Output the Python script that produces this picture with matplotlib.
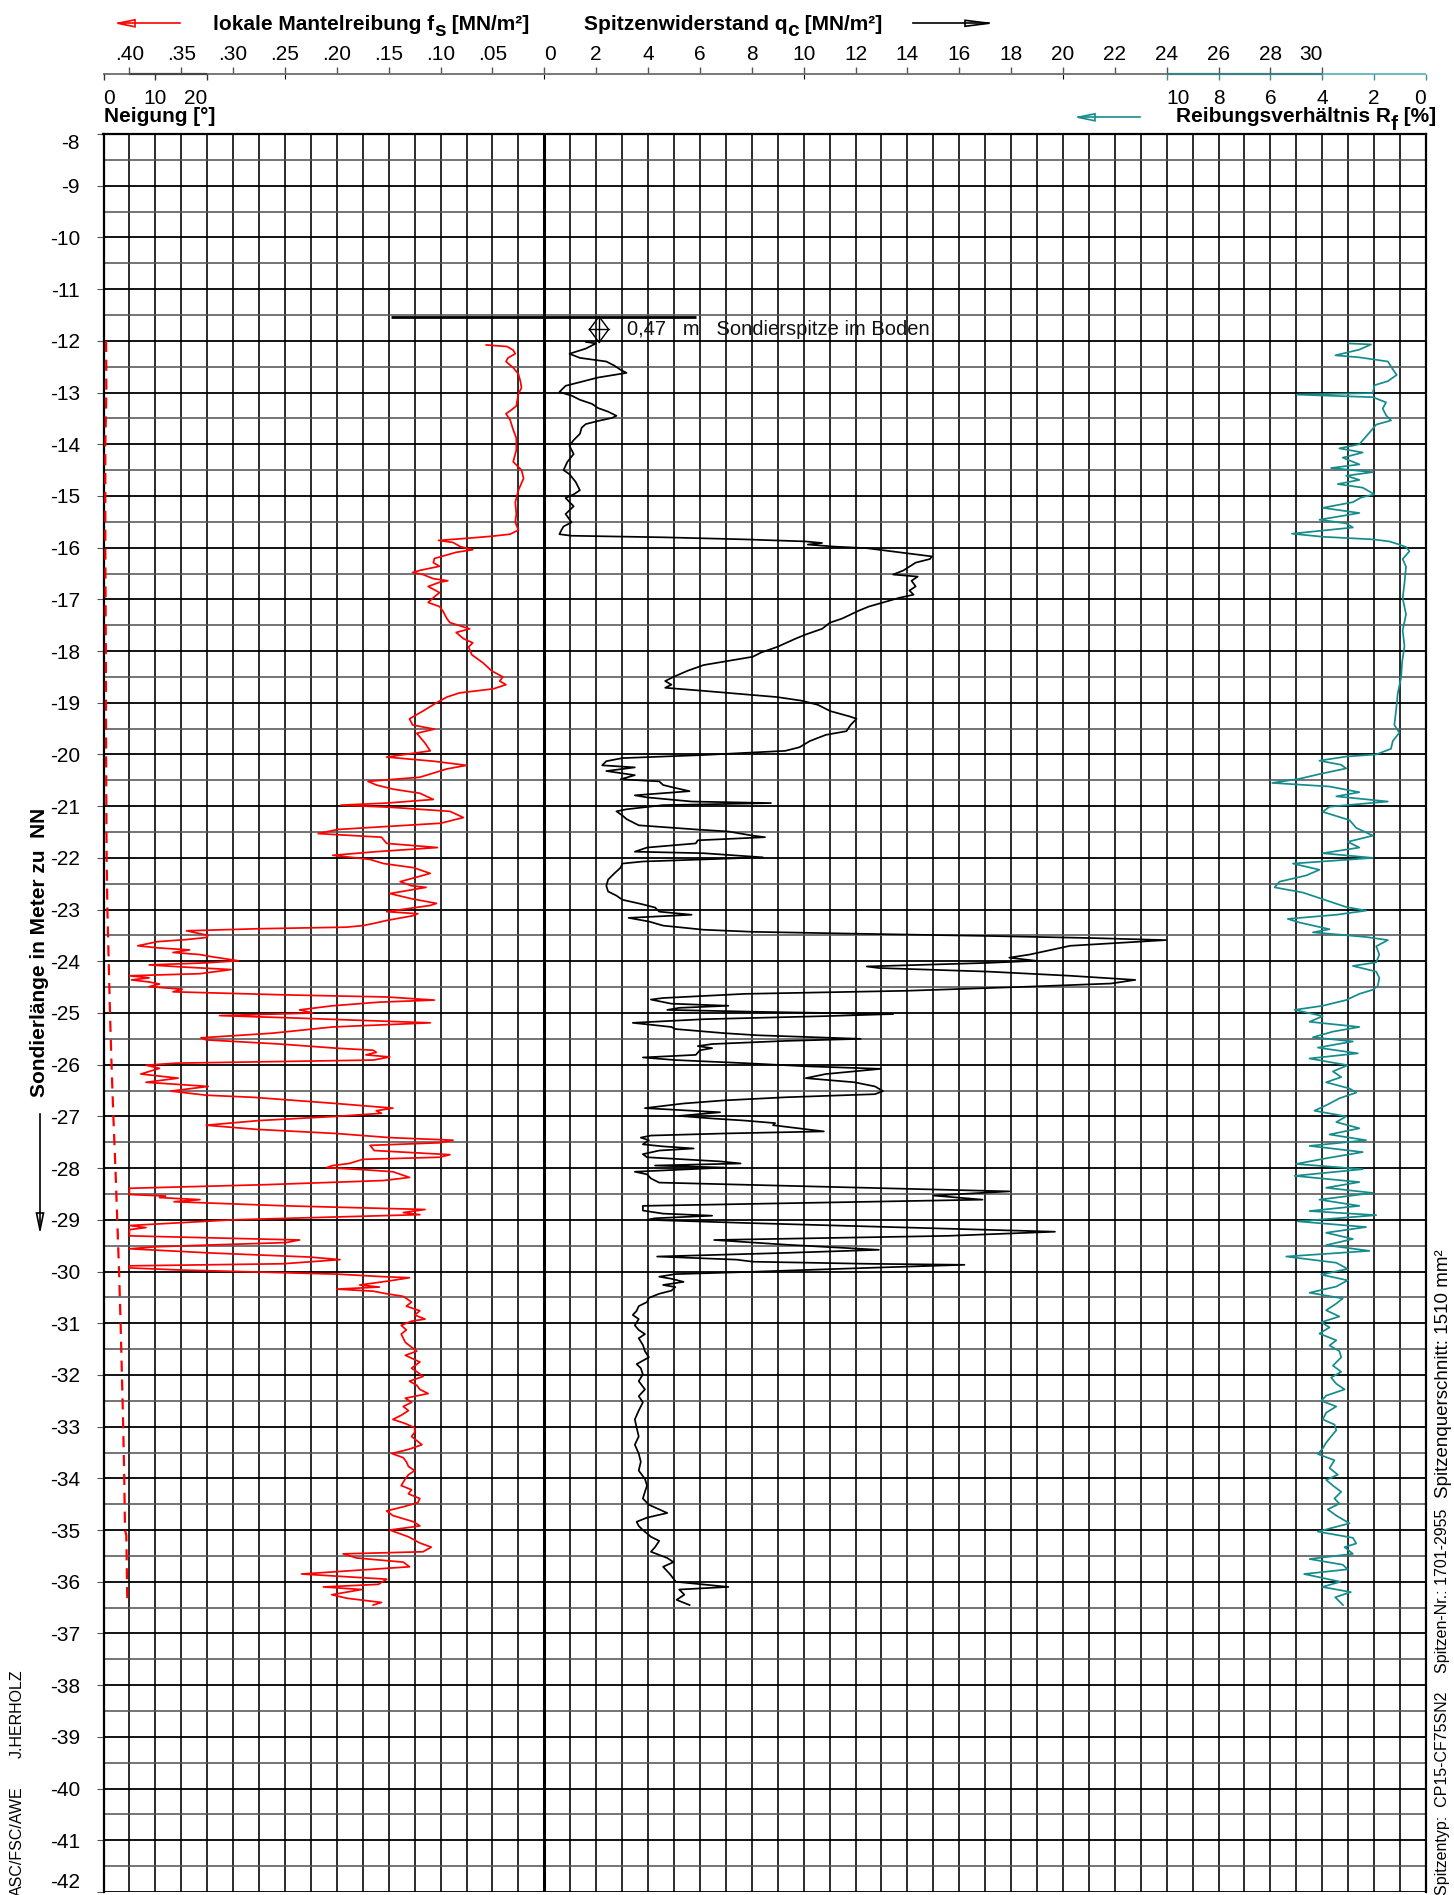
import numpy as np
import matplotlib.pyplot as plt
from matplotlib.lines import Line2D
from matplotlib.patches import Polygon

plt.rcParams['font.family'] = ['Liberation Sans', 'DejaVu Sans']

W, H = 1454, 1895

# ---- data (depth in m NN, value) ----
fs_pts = [
    (-12.08, 0.056), (-12.11, 0.036), (-12.18, 0.030), (-12.25, 0.028), (-12.33, 0.035),
    (-12.40, 0.037), (-12.52, 0.030), (-12.64, 0.025), (-12.79, 0.023), (-12.91, 0.022),
    (-13.02, 0.025), (-13.26, 0.027), (-13.34, 0.032), (-13.41, 0.037), (-13.53, 0.033),
    (-13.72, 0.030), (-13.88, 0.027), (-14.11, 0.027), (-14.34, 0.030), (-14.50, 0.022),
    (-14.66, 0.020), (-14.89, 0.025), (-15.12, 0.028), (-15.35, 0.027), (-15.51, 0.028),
    (-15.66, 0.025), (-15.74, 0.033), (-15.78, 0.051), (-15.82, 0.075), (-15.86, 0.102),
    (-15.90, 0.088), (-15.98, 0.081), (-16.04, 0.069), (-16.09, 0.085), (-16.21, 0.106),
    (-16.29, 0.107), (-16.36, 0.101), (-16.44, 0.120), (-16.48, 0.127), (-16.52, 0.117),
    (-16.60, 0.107), (-16.64, 0.093), (-16.67, 0.101), (-16.75, 0.112), (-16.87, 0.101),
    (-16.95, 0.106), (-17.06, 0.112), (-17.14, 0.101), (-17.22, 0.098), (-17.37, 0.094),
    (-17.45, 0.091), (-17.57, 0.072), (-17.64, 0.085), (-17.76, 0.078), (-17.84, 0.069),
    (-17.92, 0.073), (-18.07, 0.070), (-18.23, 0.059), (-18.38, 0.051), (-18.50, 0.040),
    (-18.58, 0.043), (-18.65, 0.037), (-18.73, 0.049), (-18.81, 0.082), (-18.89, 0.094),
    (-19.00, 0.104), (-19.16, 0.117), (-19.31, 0.130), (-19.43, 0.127), (-19.51, 0.106),
    (-19.59, 0.123), (-19.78, 0.115), (-19.93, 0.110), (-20.05, 0.152), (-20.13, 0.107),
    (-20.21, 0.075), (-20.28, 0.094), (-20.36, 0.107), (-20.44, 0.120), (-20.52, 0.170),
    (-20.59, 0.162), (-20.67, 0.146), (-20.75, 0.120), (-20.87, 0.107), (-20.94, 0.152),
    (-20.98, 0.196), (-21.02, 0.149), (-21.10, 0.091), (-21.22, 0.078), (-21.33, 0.100),
    (-21.45, 0.199), (-21.53, 0.218), (-21.60, 0.157), (-21.72, 0.152), (-21.80, 0.103),
    (-21.88, 0.162), (-21.95, 0.204), (-22.03, 0.168), (-22.11, 0.155), (-22.19, 0.126),
    (-22.30, 0.110), (-22.46, 0.139), (-22.54, 0.128), (-22.57, 0.114), (-22.69, 0.149),
    (-22.79, 0.128), (-22.88, 0.104), (-22.92, 0.110), (-23.04, 0.152), (-23.08, 0.122),
    (-23.12, 0.127), (-23.21, 0.152), (-23.27, 0.165), (-23.31, 0.175), (-23.34, 0.191),
    (-23.37, 0.275), (-23.41, 0.345), (-23.50, 0.324), (-23.54, 0.326), (-23.58, 0.345),
    (-23.62, 0.373), (-23.70, 0.392), (-23.74, 0.373), (-23.78, 0.342), (-23.83, 0.358),
    (-23.87, 0.332), (-23.91, 0.321), (-23.99, 0.295), (-24.03, 0.326), (-24.07, 0.381),
    (-24.11, 0.349), (-24.16, 0.302), (-24.24, 0.332), (-24.28, 0.400), (-24.32, 0.381),
    (-24.36, 0.398), (-24.40, 0.381), (-24.44, 0.371), (-24.49, 0.381), (-24.54, 0.349),
    (-24.59, 0.358), (-24.65, 0.249), (-24.69, 0.152), (-24.75, 0.106), (-24.79, 0.159),
    (-24.86, 0.204), (-24.94, 0.236), (-25.00, 0.223), (-25.05, 0.313), (-25.10, 0.236),
    (-25.19, 0.110), (-25.27, 0.204), (-25.39, 0.262), (-25.48, 0.331), (-25.52, 0.326),
    (-25.60, 0.255), (-25.68, 0.201), (-25.72, 0.165), (-25.76, 0.162), (-25.81, 0.172),
    (-25.85, 0.149), (-25.91, 0.165), (-25.97, 0.355), (-26.01, 0.384), (-26.07, 0.371),
    (-26.18, 0.389), (-26.26, 0.353), (-26.34, 0.384), (-26.42, 0.324), (-26.51, 0.360),
    (-26.59, 0.326), (-26.63, 0.281), (-26.75, 0.201), (-26.84, 0.146), (-26.89, 0.162),
    (-26.94, 0.157), (-27.00, 0.201), (-27.08, 0.275), (-27.17, 0.326), (-27.25, 0.278),
    (-27.33, 0.201), (-27.41, 0.149), (-27.46, 0.088), (-27.51, 0.101), (-27.56, 0.168),
    (-27.66, 0.164), (-27.74, 0.091), (-27.79, 0.101), (-27.83, 0.175), (-27.91, 0.188),
    (-27.95, 0.204), (-27.99, 0.210), (-28.03, 0.175), (-28.07, 0.146), (-28.18, 0.130),
    (-28.24, 0.155), (-28.32, 0.268), (-28.39, 0.400), (-28.51, 0.400), (-28.54, 0.365),
    (-28.57, 0.371), (-28.61, 0.332), (-28.65, 0.357), (-28.73, 0.249), (-28.80, 0.115),
    (-28.86, 0.136), (-28.90, 0.120), (-29.00, 0.300), (-29.11, 0.400), (-29.15, 0.384),
    (-29.19, 0.400), (-29.31, 0.400), (-29.39, 0.236), (-29.44, 0.249), (-29.52, 0.374),
    (-29.56, 0.400), (-29.64, 0.323), (-29.72, 0.226), (-29.77, 0.197), (-29.85, 0.252),
    (-29.89, 0.400), (-29.93, 0.400), (-29.97, 0.352), (-30.01, 0.275), (-30.05, 0.200),
    (-30.10, 0.155), (-30.12, 0.130), (-30.18, 0.149), (-30.26, 0.178), (-30.30, 0.159),
    (-30.34, 0.200), (-30.38, 0.165), (-30.43, 0.152), (-30.48, 0.136), (-30.59, 0.128),
    (-30.67, 0.133), (-30.76, 0.120), (-30.84, 0.125), (-30.92, 0.115), (-30.96, 0.128),
    (-31.04, 0.138), (-31.13, 0.133), (-31.21, 0.138), (-31.37, 0.134), (-31.54, 0.123),
    (-31.62, 0.134), (-31.75, 0.120), (-31.87, 0.128), (-31.95, 0.122), (-32.03, 0.117),
    (-32.12, 0.130), (-32.20, 0.123), (-32.28, 0.120), (-32.36, 0.112), (-32.45, 0.134),
    (-32.53, 0.128), (-32.61, 0.136), (-32.69, 0.131), (-32.78, 0.138), (-32.86, 0.146),
    (-32.94, 0.134), (-33.02, 0.125), (-33.11, 0.125), (-33.19, 0.128), (-33.27, 0.123),
    (-33.35, 0.118), (-33.44, 0.131), (-33.52, 0.147), (-33.60, 0.136), (-33.68, 0.133),
    (-33.77, 0.131), (-33.85, 0.125), (-33.93, 0.131), (-34.01, 0.134), (-34.14, 0.138),
    (-34.22, 0.128), (-34.30, 0.131), (-34.39, 0.120), (-34.47, 0.122), (-34.55, 0.136),
    (-34.63, 0.152), (-34.72, 0.146), (-34.84, 0.126), (-34.92, 0.120), (-35.00, 0.149),
    (-35.13, 0.131), (-35.25, 0.120), (-35.33, 0.109), (-35.42, 0.117), (-35.46, 0.194),
    (-35.54, 0.181), (-35.62, 0.136), (-35.71, 0.130), (-35.85, 0.234), (-35.95, 0.152),
    (-36.05, 0.160), (-36.10, 0.213), (-36.15, 0.176), (-36.25, 0.205), (-36.32, 0.190),
    (-36.40, 0.157), (-36.45, 0.165),
]

qc_pts = [
    (-12.02, 1.60), (-12.05, 1.99), (-12.15, 1.60), (-12.25, 0.97), (-12.33, 1.37),
    (-12.40, 2.39), (-12.48, 2.70), (-12.56, 2.94), (-12.62, 3.17), (-12.71, 2.07),
    (-12.87, 0.82), (-12.99, 0.58), (-13.06, 1.05), (-13.14, 1.37), (-13.22, 1.84),
    (-13.30, 2.07), (-13.37, 2.46), (-13.45, 2.78), (-13.49, 2.62), (-13.55, 2.07),
    (-13.61, 1.60), (-13.68, 1.44), (-13.80, 1.37), (-13.92, 1.13), (-14.03, 0.97),
    (-14.19, 1.13), (-14.34, 0.89), (-14.50, 0.74), (-14.58, 0.97), (-14.73, 1.21),
    (-14.89, 1.37), (-14.97, 1.13), (-15.04, 0.82), (-15.20, 1.13), (-15.35, 0.82),
    (-15.51, 1.05), (-15.59, 0.74), (-15.66, 0.66), (-15.74, 0.58), (-15.77, 1.05),
    (-15.80, 4.58), (-15.84, 7.72), (-15.88, 10.08), (-15.91, 10.71), (-15.94, 10.16),
    (-15.98, 11.18), (-16.01, 12.43), (-16.09, 13.69), (-16.17, 14.95), (-16.22, 14.87),
    (-16.29, 14.32), (-16.44, 13.85), (-16.52, 13.45), (-16.56, 14.40), (-16.64, 14.16),
    (-16.75, 14.32), (-16.83, 14.08), (-16.91, 14.24), (-16.97, 13.69), (-17.06, 13.06),
    (-17.14, 12.51), (-17.22, 12.12), (-17.37, 11.49), (-17.45, 11.02), (-17.57, 10.71),
    (-17.68, 10.08), (-17.76, 9.69), (-17.92, 8.98), (-18.03, 8.35), (-18.11, 8.04),
    (-18.19, 7.10), (-18.27, 6.15), (-18.38, 5.53), (-18.50, 4.98), (-18.58, 4.66),
    (-18.65, 4.90), (-18.71, 4.66), (-18.77, 6.15), (-18.85, 8.04), (-18.89, 8.98),
    (-18.96, 9.92), (-19.04, 10.55), (-19.16, 11.02), (-19.27, 11.81), (-19.31, 12.04),
    (-19.43, 11.81), (-19.55, 11.65), (-19.62, 10.86), (-19.74, 10.24), (-19.86, 9.84),
    (-19.93, 9.29), (-20.01, 6.15), (-20.07, 3.01), (-20.13, 2.39), (-20.21, 2.23),
    (-20.25, 3.49), (-20.32, 2.39), (-20.40, 3.49), (-20.48, 2.94), (-20.52, 4.43),
    (-20.59, 4.58), (-20.63, 4.90), (-20.71, 5.60), (-20.79, 3.49), (-20.83, 3.96),
    (-20.91, 5.68), (-20.94, 8.74), (-20.98, 4.58), (-21.06, 3.17), (-21.10, 2.78),
    (-21.18, 3.01), (-21.25, 3.17), (-21.37, 3.64), (-21.45, 5.84), (-21.49, 7.10),
    (-21.57, 8.04), (-21.60, 8.51), (-21.66, 5.92), (-21.72, 5.84), (-21.80, 3.96),
    (-21.88, 3.49), (-21.91, 6.15), (-21.99, 8.43), (-22.07, 3.80), (-22.11, 3.01),
    (-22.19, 2.94), (-22.30, 2.70), (-22.42, 2.46), (-22.54, 2.39), (-22.65, 2.46),
    (-22.73, 2.78), (-22.81, 3.01), (-22.89, 3.72), (-22.96, 4.27), (-23.04, 4.43),
    (-23.10, 5.68), (-23.16, 3.25), (-23.23, 4.03), (-23.31, 4.58), (-23.39, 6.15),
    (-23.43, 8.04), (-23.47, 12.43), (-23.51, 17.14), (-23.55, 21.07), (-23.59, 23.97),
    (-23.70, 20.28), (-23.87, 18.71), (-23.93, 17.93), (-23.99, 18.95), (-24.03, 17.14),
    (-24.10, 12.43), (-24.13, 12.90), (-24.20, 17.14), (-24.28, 20.28), (-24.36, 22.79),
    (-24.43, 21.85), (-24.49, 18.71), (-24.57, 14.00), (-24.63, 7.72), (-24.71, 4.58),
    (-24.74, 4.11), (-24.82, 4.90), (-24.86, 7.10), (-24.90, 5.21), (-24.94, 4.74),
    (-24.98, 8.51), (-25.02, 13.45), (-25.06, 10.86), (-25.12, 6.15), (-25.19, 3.41),
    (-25.27, 4.90), (-25.31, 5.05), (-25.39, 6.94), (-25.43, 8.19), (-25.50, 12.20),
    (-25.54, 9.29), (-25.60, 6.47), (-25.64, 5.92), (-25.68, 6.47), (-25.72, 6.00),
    (-25.81, 5.84), (-25.86, 3.80), (-25.91, 5.05), (-25.97, 7.72), (-26.03, 10.08),
    (-26.08, 12.98), (-26.18, 10.86), (-26.26, 10.08), (-26.34, 11.96), (-26.42, 12.75),
    (-26.51, 13.06), (-26.57, 12.75), (-26.63, 9.29), (-26.69, 6.94), (-26.75, 5.37),
    (-26.84, 3.88), (-26.92, 6.78), (-26.99, 5.21), (-27.04, 6.47), (-27.08, 7.72),
    (-27.13, 8.90), (-27.17, 8.82), (-27.29, 10.78), (-27.33, 6.94), (-27.37, 4.11),
    (-27.41, 3.72), (-27.46, 4.03), (-27.54, 3.80), (-27.58, 4.58), (-27.62, 5.76),
    (-27.66, 4.43), (-27.73, 3.80), (-27.79, 3.96), (-27.87, 6.78), (-27.91, 7.57),
    (-27.95, 4.27), (-27.99, 6.94), (-28.07, 3.49), (-28.12, 3.96), (-28.20, 4.11),
    (-28.28, 4.43), (-28.45, 17.93), (-28.53, 15.00), (-28.61, 16.90), (-28.73, 3.80),
    (-28.82, 3.80), (-28.88, 4.58), (-28.92, 6.47), (-28.97, 4.27), (-29.00, 3.96),
    (-29.06, 7.72), (-29.15, 14.00), (-29.23, 19.69), (-29.31, 15.57), (-29.39, 6.55),
    (-29.48, 9.29), (-29.58, 12.90), (-29.64, 9.29), (-29.71, 4.35), (-29.77, 7.41),
    (-29.81, 8.04), (-29.85, 12.43), (-29.87, 16.20), (-29.93, 12.43), (-30.01, 7.72),
    (-30.05, 5.05), (-30.10, 4.43), (-30.14, 4.90), (-30.20, 5.37), (-30.26, 4.58),
    (-30.30, 5.05), (-30.37, 4.90), (-30.43, 4.43), (-30.51, 4.03), (-30.59, 3.96),
    (-30.67, 3.64), (-30.76, 3.56), (-30.84, 3.41), (-30.92, 3.64), (-31.04, 3.49),
    (-31.13, 3.64), (-31.21, 3.88), (-31.29, 3.64), (-31.42, 3.80), (-31.54, 3.88),
    (-31.66, 4.03), (-31.79, 3.56), (-31.87, 3.72), (-31.99, 3.80), (-32.12, 3.64),
    (-32.28, 3.88), (-32.41, 3.64), (-32.53, 3.80), (-32.69, 3.64), (-32.86, 3.49),
    (-33.02, 3.56), (-33.19, 3.64), (-33.35, 3.49), (-33.52, 3.64), (-33.68, 3.72),
    (-33.85, 3.64), (-34.01, 3.88), (-34.14, 3.96), (-34.26, 3.88), (-34.39, 3.80),
    (-34.51, 4.03), (-34.67, 4.74), (-34.76, 3.96), (-34.84, 3.56), (-34.92, 3.64),
    (-35.00, 3.80), (-35.13, 4.11), (-35.21, 4.43), (-35.33, 4.27), (-35.42, 4.11),
    (-35.54, 4.74), (-35.62, 4.98), (-35.71, 4.58), (-35.85, 4.84), (-36.00, 5.07),
    (-36.10, 7.10), (-36.15, 5.20), (-36.25, 5.40), (-36.35, 5.10), (-36.45, 5.60),
]

rf_pts = [
    (-12.05, 3.00), (-12.07, 2.12), (-12.17, 2.57), (-12.28, 3.49), (-12.32, 2.57),
    (-12.40, 1.47), (-12.55, 1.28), (-12.66, 1.13), (-12.78, 1.47), (-12.86, 1.99),
    (-13.01, 2.05), (-13.04, 4.98), (-13.09, 2.05), (-13.19, 1.54), (-13.31, 1.67),
    (-13.44, 1.54), (-13.54, 1.35), (-13.62, 1.92), (-13.74, 2.12), (-13.85, 2.31),
    (-14.00, 2.57), (-14.08, 3.34), (-14.16, 2.44), (-14.26, 3.21), (-14.39, 2.57),
    (-14.46, 3.66), (-14.54, 2.05), (-14.61, 3.08), (-14.69, 2.57), (-14.77, 3.40),
    (-14.84, 2.44), (-14.97, 1.99), (-15.03, 2.50), (-15.12, 2.82), (-15.23, 3.98),
    (-15.33, 2.57), (-15.46, 4.11), (-15.53, 3.08), (-15.61, 2.82), (-15.73, 5.17),
    (-15.79, 3.98), (-15.84, 2.05), (-15.88, 1.41), (-15.94, 1.03), (-15.99, 0.77),
    (-16.07, 0.64), (-16.22, 0.90), (-16.37, 0.77), (-16.68, 0.83), (-16.98, 0.90),
    (-17.29, 0.77), (-17.60, 0.90), (-17.90, 0.83), (-18.21, 0.92), (-18.51, 0.96),
    (-18.82, 1.09), (-19.13, 1.15), (-19.43, 1.22), (-19.58, 1.03), (-19.74, 1.28),
    (-19.89, 1.35), (-20.00, 1.92), (-20.04, 3.08), (-20.12, 4.11), (-20.20, 3.27),
    (-20.27, 3.08), (-20.38, 4.11), (-20.47, 4.88), (-20.55, 5.93), (-20.62, 3.72),
    (-20.73, 2.57), (-20.81, 3.46), (-20.91, 1.47), (-21.01, 3.72), (-21.11, 3.98),
    (-21.27, 2.95), (-21.42, 2.69), (-21.57, 2.05), (-21.69, 3.02), (-21.80, 2.57),
    (-21.91, 3.98), (-22.00, 2.05), (-22.11, 5.13), (-22.23, 4.11), (-22.34, 4.62),
    (-22.46, 5.65), (-22.57, 5.84), (-22.67, 4.75), (-22.80, 3.98), (-22.95, 3.08),
    (-23.02, 2.31), (-23.10, 3.46), (-23.18, 5.33), (-23.25, 4.88), (-23.38, 3.72),
    (-23.44, 4.36), (-23.53, 2.31), (-23.59, 1.47), (-23.71, 1.92), (-23.87, 1.80),
    (-24.02, 1.92), (-24.09, 2.82), (-24.20, 1.92), (-24.32, 1.80), (-24.48, 1.86),
    (-24.55, 2.05), (-24.63, 2.57), (-24.75, 3.08), (-24.86, 3.98), (-24.94, 5.07),
    (-25.06, 3.98), (-25.17, 4.49), (-25.27, 2.57), (-25.36, 3.59), (-25.47, 4.36),
    (-25.55, 2.82), (-25.67, 4.17), (-25.78, 2.63), (-25.88, 4.49), (-26.01, 3.02),
    (-26.13, 3.59), (-26.24, 3.27), (-26.34, 3.85), (-26.46, 2.95), (-26.54, 2.69),
    (-26.65, 3.34), (-26.77, 3.79), (-26.89, 4.30), (-27.00, 3.08), (-27.11, 3.46),
    (-27.23, 2.57), (-27.35, 3.72), (-27.46, 2.31), (-27.57, 4.49), (-27.69, 2.44),
    (-27.81, 3.85), (-27.92, 5.01), (-28.02, 2.44), (-28.15, 5.07), (-28.27, 2.57),
    (-28.38, 3.85), (-28.48, 2.05), (-28.61, 4.11), (-28.73, 2.57), (-28.83, 4.49),
    (-28.91, 1.92), (-29.03, 4.94), (-29.14, 2.31), (-29.25, 3.85), (-29.37, 2.82),
    (-29.49, 3.85), (-29.60, 2.18), (-29.71, 5.39), (-29.83, 3.46), (-29.95, 3.02),
    (-30.06, 4.04), (-30.17, 3.02), (-30.29, 3.46), (-30.41, 4.49), (-30.52, 3.21),
    (-30.62, 3.46), (-30.75, 3.85), (-30.87, 3.34), (-30.98, 4.04), (-31.08, 3.72),
    (-31.20, 4.11), (-31.33, 3.46), (-31.43, 3.72), (-31.54, 3.34), (-31.66, 3.27),
    (-31.82, 3.59), (-31.94, 3.27), (-32.05, 3.66), (-32.17, 3.46), (-32.28, 3.14),
    (-32.40, 3.85), (-32.50, 4.04), (-32.61, 3.46), (-32.73, 3.85), (-32.86, 3.98),
    (-32.96, 3.53), (-33.07, 3.46), (-33.19, 3.66), (-33.31, 3.85), (-33.42, 3.98),
    (-33.53, 4.17), (-33.65, 3.53), (-33.80, 3.72), (-33.93, 3.40), (-34.03, 3.85),
    (-34.14, 3.59), (-34.26, 3.27), (-34.39, 3.53), (-34.49, 3.34), (-34.60, 3.79),
    (-34.72, 3.46), (-34.87, 2.95), (-35.03, 4.17), (-35.15, 2.82), (-35.26, 2.69),
    (-35.33, 3.14), (-35.46, 2.82), (-35.56, 4.49), (-35.67, 3.21), (-35.76, 3.02),
    (-35.85, 4.70), (-36.00, 3.30), (-36.10, 4.00), (-36.20, 2.90), (-36.30, 3.50),
    (-36.45, 3.20),
]

neig_depth = [-12.0, -13, -14, -16, -18, -20, -22, -23, -24, -25, -26, -27, -28, -29,
              -30, -31, -32, -33, -34, -35, -35.1, -36.45]
neig_val = [0.5, 0.55, 0.35, 0.35, 0.45, 0.5, 0.6, 0.75, 1.0, 1.25, 1.55, 1.9, 2.3, 2.65,
            3.0, 3.3, 3.55, 3.8, 4.0, 4.15, 4.4, 4.6]

depth_ticks = list(range(-42, -7))
fs_ticks = [0.40, 0.35, 0.30, 0.25, 0.20, 0.15, 0.10, 0.05]
fs_labels = ['.40', '.35', '.30', '.25', '.20', '.15', '.10', '.05']
qc_ticks = list(range(0, 31, 2))
neig_ticks = [0, 10, 20]
rf_ticks = [10, 8, 6, 4, 2, 0]

ground_level = -11.53
tip_depth = -11.78
tip_qc = 2.11

fs_depth, fs_val = zip(*fs_pts)
qc_depth, qc_val = zip(*qc_pts)
rf_depth, rf_val = zip(*rf_pts)

RED = '#ff0000'
TEAL = '#148c8c'


def fx(x):
    return x / W


def fy(y):
    return 1 - y / H


fig = plt.figure(figsize=(W / 100, H / 100), dpi=100)
renderer = fig.canvas.get_renderer()

L, R, T, B = 103.5, 1426, 134, 1892
ax = fig.add_axes([fx(L), fy(B), fx(R) - fx(L), fy(T) - fy(B)])
ax.set_xlim(-17, 34)
ax.set_ylim(-42, -8)
ax.set_axisbelow(True)
ax.set_xticks(np.arange(-17, 35))
ax.set_yticks(depth_ticks)
ax.set_yticklabels([str(v) for v in depth_ticks])
ax.set_yticks(np.arange(-41.5, -8, 1), minor=True)
ax.grid(which='major', axis='x', color='#111111', lw=1.25)
ax.grid(which='major', axis='y', color='#000000', lw=1.3)
ax.grid(which='minor', axis='y', color='#555555', lw=1.15)
ax.tick_params(axis='x', length=0, labelbottom=False)
ax.tick_params(axis='y', which='major', length=5, width=0.8, color='#555555',
               labelsize=15, pad=12)
ax.tick_params(axis='y', which='minor', length=0)
for lab in ax.get_yticklabels():
    if lab.get_text() == '-8':
        lab.set_va('top')
    if lab.get_text() == '-42':
        lab.set_va('bottom')
ax.spines['bottom'].set_visible(False)
for s in ['left', 'right', 'top']:
    ax.spines[s].set_linewidth(1.6)
ax.axvline(0, color='k', lw=2.2, zorder=1.8)

# ground line, tip marker, note
ax.plot([-5.9, 5.85], [ground_level, ground_level], color='k', lw=2.0, zorder=3,
        solid_capstyle='butt')
hw, hh = 0.37, 0.25
ax.plot([tip_qc - hw, tip_qc, tip_qc + hw, tip_qc, tip_qc - hw],
        [tip_depth, tip_depth + hh, tip_depth, tip_depth - hh, tip_depth],
        color='k', lw=1.0, zorder=3)
ax.plot([tip_qc - hw, tip_qc + hw], [tip_depth, tip_depth], color='k', lw=1.0, zorder=3)
ax.plot([tip_qc, tip_qc], [tip_depth + hh, tip_depth - hh], color='k', lw=1.0, zorder=3)
ax.text(3.19, tip_depth, '0,47   m   Sondierspitze im Boden', fontsize=14.5,
        va='center', ha='left', color='#111111', zorder=3)

# q_c trace
ax.plot(qc_val, qc_depth, color='k', lw=1.25, zorder=4)

# f_s trace
ax_fs = ax.twiny()
ax_fs.set_xlim(0.425, -0.85)
ax_fs.set_axis_off()
ax_fs.plot(fs_val, fs_depth, color=RED, lw=1.25, zorder=4)

# R_f trace
ax_rf = ax.twiny()
ax_rf.set_xlim(51, 0)
ax_rf.set_axis_off()
ax_rf.plot(rf_val, rf_depth, color=TEAL, lw=1.25, zorder=4)

# inclination
ax_n = ax.twiny()
ax_n.set_xlim(0, 255)
ax_n.set_axis_off()
ax_n.plot(neig_val, neig_depth, color=RED, lw=1.6, dashes=(5, 3.5), zorder=4)

# ---- header scale ----
hy = 73.5
hdr = fig.add_axes([fx(L), fy(hy), fx(R) - fx(L), 1e-5])
hdr.set_xlim(-17, 34)
hdr.set_ylim(0, 1)
hdr.patch.set_visible(False)
for s in hdr.spines.values():
    s.set_visible(False)
hdr.tick_params(bottom=False, labelbottom=False, left=False, labelleft=False)
hdr.plot([-17, -16], [0, 0], color='#777777', lw=1.4, clip_on=False, solid_capstyle='butt')
hdr.plot([-16, -13], [0, 0], color='#444444', lw=1.6, clip_on=False, solid_capstyle='butt')
hdr.plot([-13, 24], [0, 0], color='#777777', lw=1.4, clip_on=False, solid_capstyle='butt')
hdr.plot([24, 30], [0, 0], color='#3f8080', lw=1.6, clip_on=False, solid_capstyle='butt')
hdr.plot([30, 34], [0, 0], color='#6fbaba', lw=1.4, clip_on=False, solid_capstyle='butt')


def scale(xlim, ticks, labels, top, color, pad):
    a = hdr.twiny()
    a.set_xlim(*xlim)
    a.patch.set_visible(False)
    for s in a.spines.values():
        s.set_visible(False)
    a.set_xticks(ticks)
    a.set_xticklabels(labels)
    a.tick_params(axis='x', top=top, labeltop=top, bottom=not top, labelbottom=not top,
                  direction='out', length=4.5, width=1.0, color=color,
                  labelsize=15, pad=pad)
    return a


h_fs = scale((0.425, -0.85), fs_ticks, fs_labels, True, '#555555', 2)
h_qc = scale((-17, 34), qc_ticks, [str(v) for v in qc_ticks], True, '#555555', 2)
labs = h_qc.get_xticklabels()
labs[0].set_ha('left')
labs[-1].set_ha('right')
h_n = scale((0, 255), neig_ticks, [str(v) for v in neig_ticks], False, '#333333', 7)
labs = h_n.get_xticklabels()
labs[0].set_ha('left')
labs[-1].set_ha('right')
h_rf = scale((51, 0), rf_ticks, [str(v) for v in rf_ticks], False, '#3f8f8f', 7)
labs = h_rf.get_xticklabels()
labs[0].set_ha('left')
labs[-1].set_ha('right')


def rich_title(xc, y, parts, size=15):
    # parts: (text, downward offset in px); drawn left to right, centred on xc
    items = []
    total = 0.0
    for s, dy in parts:
        t = fig.text(0, 0, s, fontsize=size, fontweight='bold', va='baseline', ha='left')
        w = t.get_window_extent(renderer).width
        items.append((t, dy, w))
        total += w
    x = xc - total / 2
    for t, dy, w in items:
        t.set_position((fx(x), fy(y + dy)))
        x += w


rich_title(371, 29.5, [('lokale Mantelreibung f', 0), ('s', 7), (' [MN/m²]', 0)])
rich_title(733, 29.5, [('Spitzenwiderstand q', 0), ('c', 7), (' [MN/m²]', 0)])
rich_title(1306, 121.5, [('Reibungsverhältnis R', 0), ('f', 9), (' [%]', 0)])
fig.text(fx(104), fy(121.5), 'Neigung [°]', ha='left', va='baseline',
         fontsize=15, fontweight='bold')


def arrow(x_tail, x_head, y, color, hl, hwid, vertical=False):
    d = 1 if x_head > x_tail else -1
    if vertical:
        pts_line = ([fx(y), fx(y)], [fy(x_tail), fy(x_head)])
        tri = [(fx(y), fy(x_head)), (fx(y - hwid), fy(x_head - d * hl)),
               (fx(y + hwid), fy(x_head - d * hl))]
    else:
        pts_line = ([fx(x_tail), fx(x_head)], [fy(y), fy(y)])
        tri = [(fx(x_head), fy(y)), (fx(x_head - d * hl), fy(y - hwid)),
               (fx(x_head - d * hl), fy(y + hwid))]
    fig.add_artist(Line2D(*pts_line, color=color, lw=1.2, transform=fig.transFigure))
    fig.add_artist(Polygon(tri, closed=True, fc='white', ec=color, lw=1.2,
                           transform=fig.transFigure))


arrow(180, 118, 23.3, RED, 17, 3.5)
arrow(913, 989, 23.3, 'k', 24, 3.0)
arrow(1140, 1078, 117.3, TEAL, 17, 3.5)

# y label with arrow
fig.text(fx(40), fy(952), 'Sondierlänge in Meter zu  NN', rotation=90, ha='center',
         va='center', fontsize=15, fontweight='bold')
arrow(1114, 1230, 40, 'k', 17, 3.5, vertical=True)

# side notes
fig.text(fx(17), fy(1714), 'J.HERHOLZ', rotation=90, ha='center', va='center', fontsize=11.5)
fig.text(fx(17), fy(1896), 'ASC/FSC/AWE', rotation=90, ha='center', va='bottom', fontsize=11.5)
fig.text(fx(1443), fy(1895), 'Spitzentyp:  CP15-CF75SN2', rotation=90,
         ha='center', va='bottom', fontsize=11.5)
fig.text(fx(1443), fy(1673), 'Spitzen-Nr.: 1701-2955', rotation=90,
         ha='center', va='bottom', fontsize=11.5)
fig.text(fx(1443), fy(1498), 'Spitzenquerschnitt: 1510 mm²', rotation=90,
         ha='center', va='bottom', fontsize=13.5)

fig.savefig('out.png', dpi=100)
